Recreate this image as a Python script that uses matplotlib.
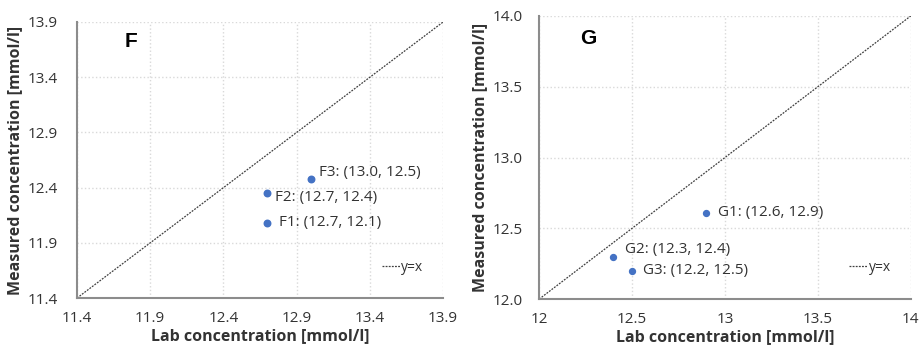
import matplotlib
matplotlib.use("Agg")
import matplotlib.pyplot as plt

plt.rcParams['font.family'] = ['Open Sans', 'DejaVu Sans']

# panel F
f_lab = [12.7, 12.7, 13.0]
f_meas = [12.08, 12.35, 12.48]
f_text = ['F1: (12.7, 12.1)', 'F2: (12.7, 12.4)', 'F3: (13.0, 12.5)']
f_ticks = [11.4, 11.9, 12.4, 12.9, 13.4, 13.9]

# panel G
g_lab = [12.9, 12.4, 12.5]
g_meas = [12.61, 12.30, 12.20]
g_text = ['G1: (12.6, 12.9)', 'G2: (12.3, 12.4)', 'G3: (12.2, 12.5)']
g_xticks = [12, 12.5, 13, 13.5, 14]
g_yticks = [12.0, 12.5, 13.0, 13.5, 14.0]

blue = '#4472C4'
spine_col = '#8c8c8c'
txt = '#333333'

fig = plt.figure(figsize=(9.2, 3.54), dpi=100)
ax1 = fig.add_axes([0.0837, 0.158, 0.398, 0.78])
ax2 = fig.add_axes([0.586, 0.155, 0.404, 0.80])


def style(ax, xt, yt, xlab_fmt, ylab_fmt, ypad):
    ax.set_xlim(xt[0], xt[-1])
    ax.set_ylim(yt[0], yt[-1])
    ax.set_xticks(xt)
    ax.set_yticks(yt)
    ax.set_xticklabels([xlab_fmt(v) for v in xt])
    ax.set_yticklabels([ylab_fmt(v) for v in yt])
    ax.grid(True, color='#d9d9d9', linestyle=':', linewidth=1)
    ax.set_axisbelow(True)
    for s in ['top', 'right']:
        ax.spines[s].set_visible(False)
    for s in ['left', 'bottom']:
        ax.spines[s].set_color(spine_col)
        ax.spines[s].set_linewidth(1.5)
    ax.tick_params(length=0, labelsize=11, colors=txt)
    ax.tick_params(axis='x', pad=9)
    ax.tick_params(axis='y', pad=ypad)
    ax.set_xlabel('Lab concentration [mmol/l]', fontsize=11.5, fontweight='bold',
                  color=txt, labelpad=2)
    ax.set_ylabel('Measured concentration [mmol/l]', fontsize=11.5, fontweight='bold',
                  color=txt, labelpad=3)


style(ax1, f_ticks, f_ticks, lambda v: f'{v:.1f}', lambda v: f'{v:.1f}', 14)
style(ax2, g_xticks, g_yticks, lambda v: f'{v:g}', lambda v: f'{v:.1f}', 12)

# y=x lines
ax1.plot([f_ticks[0], f_ticks[-1]], [f_ticks[0], f_ticks[-1]], color='#404040',
         linestyle=(0, (1.5, 1)), linewidth=0.9, label='y=x')
ax2.plot([g_xticks[0], g_xticks[-1]], [g_yticks[0], g_yticks[-1]], color='#404040',
         linestyle=(0, (1.5, 1)), linewidth=0.9, label='y=x')

ax1.scatter(f_lab, f_meas, s=22, color=blue, zorder=3)
ax2.scatter(g_lab, g_meas, s=18, color=blue, zorder=3)

f_offsets = [(8.5, 0), (5.5, -3), (5.5, 4.5)]
for x, y, t, o in zip(f_lab, f_meas, f_text, f_offsets):
    ax1.annotate(t, (x, y), xytext=o, textcoords='offset points', fontsize=11,
                 color=txt, va='center', ha='left')

g_offsets = [(8.5, 0), (8.5, 5), (8, 0)]
for x, y, t, o in zip(g_lab, g_meas, g_text, g_offsets):
    ax2.annotate(t, (x, y), xytext=o, textcoords='offset points', fontsize=11,
                 color=txt, va='center', ha='left')

ax1.text(0.13, 0.93, 'F', transform=ax1.transAxes, fontsize=15, fontweight='bold',
         family='Liberation Sans', va='center')
ax2.text(0.11, 0.92, 'G', transform=ax2.transAxes, fontsize=15, fontweight='bold',
         family='Liberation Sans', va='center')

for ax in (ax1, ax2):
    leg = ax.legend(loc='lower right', frameon=False, fontsize=10, handlelength=1.3,
                    handletextpad=0.1, bbox_to_anchor=(0.98, 0.04))
    for t in leg.get_texts():
        t.set_color(txt)

fig.savefig('out.png', dpi=100)
